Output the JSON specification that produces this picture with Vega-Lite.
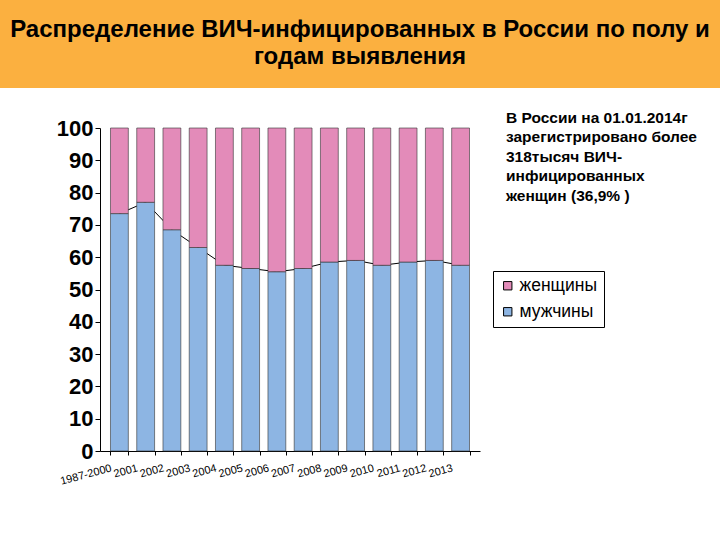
{
  "$schema": "https://vega.github.io/schema/vega-lite/v6.json",
  "padding": 0,
  "background": "white",
  "spacing": 22,
  "bounds": "full",
  "align": "none",
  "columns": 1,
  "config": {
    "font": "Liberation Sans",
    "view": {"stroke": null},
    "axisY": {
      "title": null,
      "offset": -100,
      "values": [0, 10, 20, 30, 40, 50, 60, 70, 80, 90, 100],
      "labelOverlap": false,
      "grid": false,
      "labelFontSize": 22,
      "labelFontWeight": "bold",
      "labelFont": "Liberation Sans",
      "labelColor": "black",
      "labelPadding": 2,
      "domainColor": "black",
      "tickColor": "black",
      "tickSize": 5
    }
  },
  "concat": [
    {
      "width": 720,
      "height": 88,
      "view": {"fill": "#fbb040", "stroke": null},
      "data": {"values": [{"t": "Распределение ВИЧ-инфицированных в России по полу и\nгодам выявления"}]},
      "mark": {"type": "text", "lineBreak": "\n", "fontSize": 24, "fontWeight": "bold", "font": "Liberation Sans", "lineHeight": 27, "align": "center", "baseline": "middle", "dy": -14.5, "color": "black"},
      "encoding": {"text": {"field": "t"}}
    },
    {
      "width": 480,
      "height": 323,
      "title": {
        "text": ["В России  на 01.01.2014г", "зарегистрировано более", "318тысяч  ВИЧ-", "инфицированных", "женщин (36,9% )"],
        "anchor": "start",
        "frame": "group",
        "orient": "top",
        "align": "left",
        "baseline": "top",
        "offset": -96,
        "dx": 506,
        "dy": -9,
        "fontSize": 15.5,
        "fontWeight": "bold",
        "font": "Liberation Sans",
        "lineHeight": 19.5,
        "color": "black"
      },
      "data": {"values": [
        {"year": "1987-2000", "sex": "мужчины", "value": 73.5},
        {"year": "1987-2000", "sex": "женщины", "value": 26.5},
        {"year": "2001", "sex": "мужчины", "value": 77},
        {"year": "2001", "sex": "женщины", "value": 23},
        {"year": "2002", "sex": "мужчины", "value": 68.5},
        {"year": "2002", "sex": "женщины", "value": 31.5},
        {"year": "2003", "sex": "мужчины", "value": 63},
        {"year": "2003", "sex": "женщины", "value": 37},
        {"year": "2004", "sex": "мужчины", "value": 57.5},
        {"year": "2004", "sex": "женщины", "value": 42.5},
        {"year": "2005", "sex": "мужчины", "value": 56.5},
        {"year": "2005", "sex": "женщины", "value": 43.5},
        {"year": "2006", "sex": "мужчины", "value": 55.5},
        {"year": "2006", "sex": "женщины", "value": 44.5},
        {"year": "2007", "sex": "мужчины", "value": 56.5},
        {"year": "2007", "sex": "женщины", "value": 43.5},
        {"year": "2008", "sex": "мужчины", "value": 58.5},
        {"year": "2008", "sex": "женщины", "value": 41.5},
        {"year": "2009", "sex": "мужчины", "value": 59},
        {"year": "2009", "sex": "женщины", "value": 41},
        {"year": "2010", "sex": "мужчины", "value": 57.5},
        {"year": "2010", "sex": "женщины", "value": 42.5},
        {"year": "2011", "sex": "мужчины", "value": 58.5},
        {"year": "2011", "sex": "женщины", "value": 41.5},
        {"year": "2012", "sex": "мужчины", "value": 59},
        {"year": "2012", "sex": "женщины", "value": 41},
        {"year": "2013", "sex": "мужчины", "value": 57.5},
        {"year": "2013", "sex": "женщины", "value": 42.5}
      ]},
      "encoding": {
        "x": {
          "field": "year",
          "type": "nominal",
          "sort": null,
          "scale": {"range": [100, 480], "paddingInner": 0.32, "paddingOuter": 0.4},
          "axis": {
            "title": null,
            "labelAngle": -15,
            "labelAlign": "right",
            "labelBaseline": "top",
            "labelFontSize": 11,
            "labelColor": "black",
            "labelPadding": 7,
            "labelOffset": -10,
            "domainColor": "black",
            "tickColor": "black",
            "tickBand": "extent",
            "tickSize": 4
          }
        }
      },
      "layer": [
        {
          "transform": [{"filter": "datum.sex == 'мужчины'"}],
          "mark": {"type": "line", "color": "black", "strokeWidth": 1},
          "encoding": {
            "y": {
              "field": "value",
              "type": "quantitative",
              "scale": {"domain": [0, 100], "nice": false},
              "axis": {"values": [0, 10, 20, 30, 40, 50, 60, 70, 80, 90, 100], "labelOverlap": false, "offset": -100}
            }
          }
        },
        {
          "mark": {"type": "bar", "stroke": "#333333", "strokeWidth": 0.6},
          "encoding": {
            "y": {
              "field": "value",
              "type": "quantitative",
              "stack": "zero",
              "scale": {"domain": [0, 100], "nice": false},
              "axis": {"values": [0, 10, 20, 30, 40, 50, 60, 70, 80, 90, 100], "labelOverlap": false, "offset": -100}
            },
            "color": {
              "field": "sex",
              "type": "nominal",
              "scale": {"domain": ["женщины", "мужчины"], "range": ["#e38bb9", "#8db5e3"]},
              "legend": {
                "title": null,
                "orient": "none",
                "legendX": 493,
                "legendY": 271,
                "strokeColor": "black",
                "fillColor": "white",
                "padding": 6,
                "labelFontSize": 17.5,
                "labelFont": "Liberation Sans",
                "labelColor": "black",
                "labelOffset": 3,
                "symbolType": "square",
                "symbolSize": 70,
                "symbolOpacity": 1,
                "symbolStrokeColor": "black",
                "symbolStrokeWidth": 1,
                "rowPadding": 7
              }
            },
            "order": {"field": "sex", "sort": "descending"}
          }
        }
      ]
    }
  ]
}
